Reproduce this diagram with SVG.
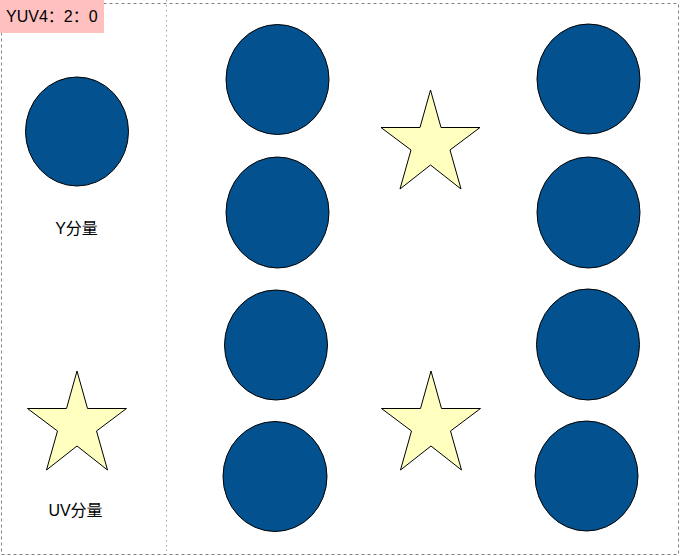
<svg xmlns="http://www.w3.org/2000/svg" width="680" height="556" viewBox="0 0 680 556">
<defs>
<style>
.frame{fill:none;stroke:#808080;stroke-width:1;stroke-dasharray:3 3}
.div{fill:none;stroke:#a6a6a6;stroke-width:1;stroke-dasharray:1.5 3.5}
.dot{fill:#03528f;stroke:#000;stroke-width:1}
.star{fill:#ffffc0;stroke:#000;stroke-width:1}
.lbl{font-family:"Liberation Sans","Noto Sans CJK SC",sans-serif;font-size:16px;fill:#000}
</style>
<path id="starShape" d="M49.5,0 L60,37.5 L99,37.5 L69,60 L80,99 L49.5,75 L19,99 L30,60 L0,37.5 L39,37.5 Z"/>
</defs>
<rect width="680" height="556" fill="#fff"/>
<g id="frame">
<rect class="frame" x="1.5" y="3.5" width="677" height="551"/>
<line class="div" x1="166.5" y1="0" x2="166.5" y2="551"/>
</g>
<g id="title">
<rect x="0" y="0" width="104" height="33" fill="#ffc0c0"/>
<text class="lbl" x="6" y="22">YUV4：2：0</text>
</g>
<g id="legend-y">
<ellipse class="dot" cx="77" cy="131.5" rx="51.5" ry="54.5"/>
<text class="lbl" x="76.5" y="234" text-anchor="middle">Y分量</text>
</g>
<g id="legend-uv">
<use href="#starShape" class="star" x="27.5" y="371"/>
<text class="lbl" x="75.5" y="516" text-anchor="middle">UV分量</text>
</g>
<g id="y-col1">
<ellipse class="dot" cx="277.5" cy="79.5" rx="51.5" ry="55"/>
<ellipse class="dot" cx="277.5" cy="212.5" rx="51.5" ry="55.5"/>
<ellipse class="dot" cx="276" cy="345" rx="51.5" ry="55"/>
<ellipse class="dot" cx="275" cy="476.5" rx="52" ry="55"/>
</g>
<g id="y-col2">
<ellipse class="dot" cx="588.5" cy="79" rx="51.5" ry="55"/>
<ellipse class="dot" cx="588.5" cy="212.5" rx="51.5" ry="55.5"/>
<ellipse class="dot" cx="588" cy="344.5" rx="51.5" ry="55.5"/>
<ellipse class="dot" cx="586.5" cy="476" rx="51.5" ry="55"/>
</g>
<g id="uv-top">
<use href="#starShape" class="star" x="381" y="90"/>
</g>
<g id="uv-bottom">
<use href="#starShape" class="star" x="381.5" y="371"/>
</g>
</svg>
